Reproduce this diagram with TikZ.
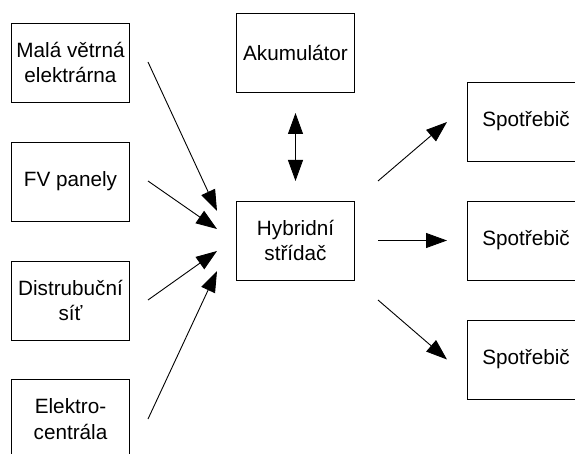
\documentclass[tikz,border=0pt]{standalone}
\usepackage{fontspec}
\setmainfont{Liberation Sans}
\usetikzlibrary{arrows.meta}
\tikzset{
  blockbox/.style={draw=black,line width=0.9pt,fill=white,minimum width=118pt,minimum height=79pt,inner sep=0pt,align=center,font=\fontsize{20.7}{25.7}\selectfont,anchor=center,text=black},
  flow/.style={draw=black,line width=0.9pt,-{Triangle[length=21pt,width=15pt]}},
  flowboth/.style={draw=black,line width=0.9pt,{Triangle[length=21pt,width=15pt]}-{Triangle[length=21pt,width=15pt]}}
}
\begin{document}
\begin{tikzpicture}[x=1pt,y=-1pt]
\useasboundingbox (0,0) rectangle (575,454);
\clip (0,0) rectangle (575,454);
\fill[white] (0,0) rectangle (575,454);
\node[blockbox] (vitr) at (70.5,62.5) {Malá větrná\\elektrárna};
\node[blockbox] (fv) at (70.5,181.5) {FV panely};
\node[blockbox] (sit) at (70.5,300.5) {Distrubuční\\síť};
\node[blockbox] (gen) at (70.5,419) {Elektro-\\centrála};
\node[blockbox] (aku) at (295.5,52.5) {Akumulátor};
\node[blockbox] (hyb) at (295.5,240.5) {Hybridní\\střídač};
\node[blockbox] (sp1) at (526,121.5) {Spotřebič};
\node[blockbox] (sp2) at (526,240.5) {Spotřebič};
\node[blockbox] (sp3) at (526,359.5) {Spotřebič};
\coordinate (vitrO) at (148,62);
\coordinate (fvO) at (148,181);
\coordinate (sitO) at (148,300);
\coordinate (genO) at (148,419);
\coordinate (hybA) at (217,211);
\coordinate (hybB) at (217,229);
\coordinate (hybC) at (217,251);
\coordinate (hybD) at (217,271);
\coordinate (akuO) at (295.5,113);
\coordinate (hybU) at (295.5,181);
\coordinate (hybR1) at (378,181);
\coordinate (hybR2) at (378,240.5);
\coordinate (hybR3) at (378,300);
\coordinate (sp1I) at (447,122);
\coordinate (sp2I) at (447,240.5);
\coordinate (sp3I) at (447,359.5);
\draw[flow] (vitrO) -- (hybA);
\draw[flow] (fvO) -- (hybB);
\draw[flow] (sitO) -- (hybC);
\draw[flow] (genO) -- (hybD);
\draw[flowboth] (akuO) -- (hybU);
\draw[flow] (hybR1) -- (sp1I);
\draw[flow] (hybR2) -- (sp2I);
\draw[flow] (hybR3) -- (sp3I);
\end{tikzpicture}
\end{document}
